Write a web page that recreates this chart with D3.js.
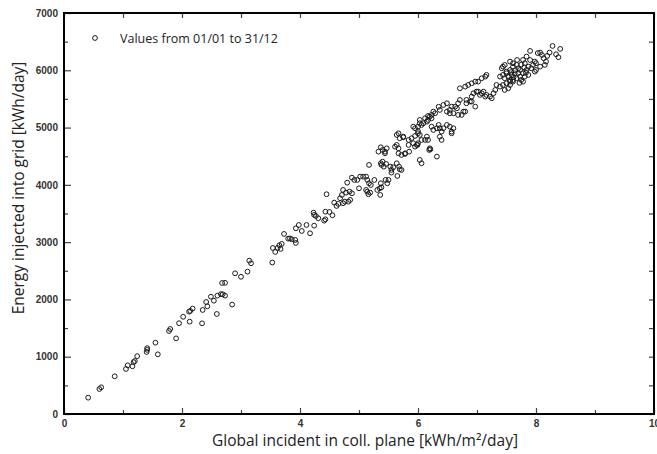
<!DOCTYPE html>
<html>
<head>
<meta charset="utf-8">
<script src="https://cdn.jsdelivr.net/npm/d3@7"></script>
<style>
  html, body { margin: 0; padding: 0; background: #fff; }
  svg { display: block; }
</style>
</head>
<body>
<svg width="657" height="454"></svg>
<script>
// daily values: [global incident kWh/m2/day, energy injected kWh/day]
const dailyValues = [
  [0.41,285],[0.6,436],[0.63,466],[0.86,658],[1.05,786],[1.08,850],[1.16,833],[1.18,905],[1.2,925],[1.24,1010],
  [1.4,1083],[1.41,1120],[1.41,1150],[1.55,1245],[1.59,1042],[1.78,1449],[1.8,1484],[1.9,1320],[1.95,1585],[2.02,1697],
  [2.12,1786],[2.14,1800],[2.18,1840],[2.13,1612],[2.34,1583],[2.35,1816],[2.41,1955],[2.43,1880],[2.49,2048],[2.54,1978],
  [2.59,1746],[2.6,2066],[2.66,2092],[2.69,2090],[2.68,2287],[2.73,2290],[2.73,2066],[2.85,1910],[2.9,2456],[3.0,2395],
  [3.11,2485],[3.14,2677],[3.17,2631],[3.53,2645],[3.54,2898],[3.58,2829],[3.62,2898],[3.65,2945],[3.67,2881],[3.69,2970],
  [3.73,3143],[3.8,3061],[3.83,3065],[3.86,3050],[3.92,3038],[3.93,2986],[3.93,3242],[3.98,3300],
  [4.03,3195],[4.11,3300],[4.17,3155],[4.24,3288],[4.23,3515],[4.24,3475],[4.27,3457],[4.31,3417],[4.41,3375],[4.43,3399],
  [4.43,3532],[4.5,3527],[4.55,3469],[4.45,3836],[4.58,3690],[4.62,3632],[4.65,3667],[4.68,3766],[4.71,3824],[4.73,3679],
  [4.76,3707],[4.82,3707],[4.85,3737],[4.73,3911],[4.78,3864],[4.84,3882],[4.88,3853],[4.8,4039],[4.88,4126],[4.92,4086],
  [4.97,4086],[5.02,4144],[5.07,4144],[5.12,4144],[5.14,4086],[5.0,3940],[5.12,3911],[5.14,3882],[5.16,3836],[5.19,3864],
  [5.17,4028],[5.2,3998],[5.26,4086],[5.31,3911],[5.35,3940],[5.38,3957],[5.36,3824],[5.37,4028],[5.45,4086],[5.48,4028],
  [5.5,4086],[5.17,4348],[5.37,4377],[5.4,4405],[5.38,4348],[5.42,4318],[5.46,4365],[5.53,4318],[5.55,4260],[5.58,4307],
  [5.55,4214],[5.64,4377],[5.68,4318],[5.65,4155],[5.69,4272],[5.33,4580],[5.37,4656],[5.4,4609],[5.44,4580],[5.47,4638],
  [5.44,4551],[5.61,4667],[5.64,4697],[5.67,4638],[5.67,4551],[5.72,4522],[5.78,4540],[5.84,4697],[5.85,4580],[5.64,4871],
  [5.69,4813],[5.72,4260],[5.78,4551],[5.75,4831],[5.84,4784],[5.89,4813],[5.92,4726],[5.95,4667],[5.98,4697],[6.0,4726],
  [5.92,5016],[5.95,4988],[6.0,5016],[6.03,5075],[6.06,5046],[6.09,5075],[6.0,4936],[6.03,4871],[6.06,4784],[6.12,4784],
  [6.15,4842],[6.17,4784],[6.03,4435],[6.06,4377],[6.2,4638],[6.32,4493],[6.12,5163],[6.17,5133],[6.2,5191],[6.23,5221],
  [6.26,5279],[6.29,5250],[6.23,5016],[6.26,4959],[6.32,4988],[6.35,5046],[6.37,4988],[6.4,4930],[6.43,4988],[6.49,5046],
  [6.54,5016],[6.57,4930],[6.6,4988],[6.37,4842],[6.4,4784],[6.57,4900],[6.35,5363],[6.37,5308],[6.43,5395],[6.49,5424],
  [6.54,5308],[6.57,5366],[6.63,5366],[6.66,5337],[6.68,5424],[6.71,5483],[6.49,5279],[6.54,5250],[6.6,5250],[6.68,5221],
  [6.74,5221],[6.77,5279],[6.82,5483],[6.88,5454],[6.91,5541],[6.94,5599],[6.99,5628],[6.71,5686],[6.8,5715],[6.85,5744],
  [6.91,5773],[6.97,5802],[7.02,5802],[7.08,5861],[7.14,5890],[7.16,5919],[7.02,5628],[7.05,5570],[7.08,5599],[7.11,5628],
  [7.14,5541],[7.16,5570],[7.22,5541],[7.25,5512],[7.28,5599],[7.31,5657],[7.33,5744],[7.39,5715],[7.44,5744],[7.5,5773],
  [7.56,5802],[7.61,5831],[7.39,5890],[7.44,5919],[7.5,5948],[7.56,6006],[7.61,6064],[7.47,6093],[7.42,6035],
  [6.19,4609],[6.21,4621],[6.0,4900],[5.95,4854],[5.99,4697],[5.67,4900],[5.75,4842],[6.03,5133],[6.15,5104],[6.23,5162],
  [6.17,5203],[6.8,5279],[6.82,5424],[6.91,5454],[6.97,5366],
  [8.28,6425],[8.41,6373],[8.34,6280],[8.38,6228],[8.23,6309],[8.19,6251],[8.07,6309],[8.1,6268],[8.13,6210],[8.17,6152],
  [8.15,6094],[7.9,6338],[7.98,6152],[8.0,6123],[7.95,6094],[7.92,6035],[8.0,6006],[8.07,6064],[7.84,6240],[7.78,6181],
  [7.81,6123],[7.87,6064],[7.84,6006],[7.78,5948],[7.75,5831],[7.81,5890],[7.87,5919],[7.56,6152],[7.61,6123],[7.67,6094],
  [7.7,6035],[7.73,6006],[7.64,5948],[7.59,5919],[7.53,5890],[7.47,5861],[7.44,6064],[7.5,5977],[7.56,5831],[7.61,5802],
  [7.67,5861],[7.73,5890],[7.53,5686],[7.47,5657],[7.78,5802],[7.98,5977],[8.03,6300],[7.56,5744],
  [7.65,6000],[7.7,5950],[7.75,6100],[7.8,6050],[7.9,6180],[7.68,6180],[7.62,5880],[7.72,5780],[7.58,5970],[7.83,5960]
];

const xTicks = [0, 2, 4, 6, 8, 10];
const xMinorTicks = [1, 3, 5, 7, 9];
const yTicks = [0, 1000, 2000, 3000, 4000, 5000, 6000, 7000];
const yMinorTicks = [500, 1500, 2500, 3500, 4500, 5500, 6500];

const legendLabel = "Values from 01/01 to 31/12";
const xTitle = "Global incident in coll. plane [kWh/m²/day]";
const yTitle = "Energy injected into grid [kWh/day]";

const svg = d3.select("svg");
const plotLeft = 64, plotRight = 654, plotTop = 13, plotBottom = 414;

const x = d3.scaleLinear().domain([0, 10]).range([plotLeft, plotRight]);
const y = d3.scaleLinear().domain([0, 7000]).range([plotBottom, plotTop]);

svg.append("rect").attr("width", 657).attr("height", 454).attr("fill", "#fff");

// points
svg.append("g").attr("id", "points")
  .selectAll("circle")
  .data(dailyValues)
  .enter()
  .append("circle")
    .attr("cx", d => x(d[0]))
    .attr("cy", d => y(d[1]))
    .attr("r", 2.4)
    .attr("fill", "none")
    .attr("stroke", "#1a1a1a")
    .attr("stroke-width", 1);

// axes, ticks pointing inward
function styleAxis(g) {
  g.select(".domain").remove();
  g.selectAll(".tick line").attr("stroke", "#444").attr("stroke-width", 1.2);
  g.selectAll("text")
    .attr("font-family", "Liberation Sans, Arial, sans-serif")
    .attr("font-weight", "bold")
    .attr("font-size", 10)
    .attr("fill", "#333");
}

svg.append("g").attr("transform", `translate(${plotLeft},0)`)
  .call(d3.axisLeft(y).tickValues(yTicks).tickSize(-7).tickPadding(6).tickFormat(d3.format("d")))
  .call(styleAxis);
svg.append("g").attr("transform", `translate(${plotLeft},0)`)
  .call(d3.axisLeft(y).tickValues(yMinorTicks).tickSize(-4).tickFormat(""))
  .call(styleAxis);
svg.append("g").attr("transform", `translate(${plotRight},0)`)
  .call(d3.axisRight(y).tickValues(yTicks.concat(yMinorTicks)).tickSize(-5).tickFormat(""))
  .call(styleAxis);

svg.append("g").attr("transform", `translate(0,${plotBottom})`)
  .call(d3.axisBottom(x).tickValues(xTicks).tickSize(-6).tickPadding(6).tickFormat(d3.format("d")))
  .call(styleAxis);
svg.append("g").attr("transform", `translate(0,${plotBottom})`)
  .call(d3.axisBottom(x).tickValues(xMinorTicks).tickSize(-4).tickFormat(""))
  .call(styleAxis);
svg.append("g").attr("transform", `translate(0,${plotTop})`)
  .call(d3.axisTop(x).tickValues(xTicks.concat(xMinorTicks)).tickSize(-5).tickFormat(""))
  .call(styleAxis);

// frame
svg.append("rect")
  .attr("x", plotLeft).attr("y", plotTop)
  .attr("width", plotRight - plotLeft).attr("height", plotBottom - plotTop)
  .attr("fill", "none").attr("stroke", "#000").attr("stroke-width", 2);

// legend
svg.append("circle").attr("cx", 95).attr("cy", 38).attr("r", 2.4)
  .attr("fill", "none").attr("stroke", "#1a1a1a");
svg.append("text").attr("x", 120).attr("y", 42.5)
  .attr("font-family", "Open Sans, sans-serif").attr("font-size", 12.5).attr("fill", "#222")
  .text(legendLabel);

// axis titles
svg.append("text")
  .attr("x", 365).attr("y", 446)
  .attr("text-anchor", "middle")
  .attr("font-family", "Open Sans, sans-serif").attr("font-size", 15.5).attr("fill", "#222")
  .text(xTitle);

svg.append("text")
  .attr("transform", "translate(24,188) rotate(-90)")
  .attr("text-anchor", "middle")
  .attr("font-family", "Open Sans, sans-serif").attr("font-size", 15.5).attr("fill", "#222")
  .text(yTitle);
</script>
</body>
</html>
